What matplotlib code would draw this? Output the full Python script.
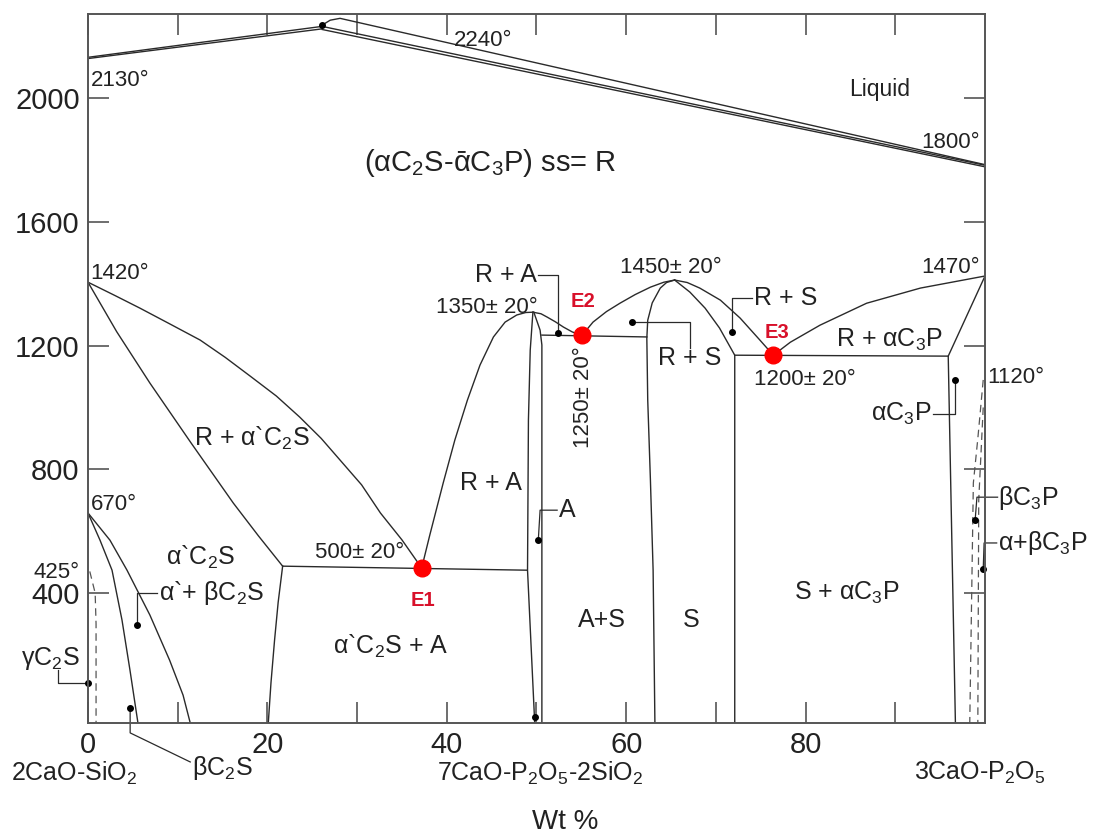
import matplotlib.pyplot as plt

plt.rcParams["font.family"] = ["Liberation Sans", "DejaVu Sans"]
plt.rcParams["mathtext.fontset"] = "custom"
plt.rcParams["mathtext.rm"] = "Liberation Sans"
plt.rcParams["mathtext.it"] = "Liberation Sans:italic"
plt.rcParams["mathtext.bf"] = "Liberation Sans:bold"

# phase boundaries as (wt %, temperature) pairs
liq_left_a = [(0, 2132), (26.1, 2232)]
liq_left_b = [(0, 2128), (26.1, 2224)]
liq_right_top = [(26.1, 2236), (27.0, 2252), (28.1, 2258), (100, 1785)]
liq_right_mid = [(26.1, 2232), (100, 1783)]
liq_right_low = [(26.1, 2222), (100, 1778)]

r_liquidus_c2s = [(0, 1405), (3.0, 1362), (5.8, 1321), (9.0, 1272), (12.5, 1218), (15.3, 1162),
                  (18.1, 1101), (21.0, 1037), (23.6, 969), (26.0, 900), (28.1, 830),
                  (30.5, 750), (32.6, 659), (35.0, 572), (37.2, 481)]
r_solvus_c2s = [(0, 1405), (3.2, 1245), (6.9, 1079), (11.5, 885), (16.2, 691), (19.0, 585), (21.7, 487)]
eutectoid_e1 = [(21.7, 487), (48.9, 474)]
c2s_a_left = [(21.7, 487), (21.2, 370), (20.8, 248), (20.4, 110), (20.1, -20)]

c2s_alpha_beta_a = [(0, 659), (1.34, 571), (2.68, 474), (3.79, 313), (4.68, 151), (5.57, -20)]
c2s_alpha_beta_b = [(0, 659), (2.45, 571), (4.35, 474), (6.9, 329), (9.1, 183), (10.6, 70), (11.4, -20)]
c2s_gamma_dash = [(0.2, 470), (0.8, 400), (0.9, 300), (0.9, -20)]

e1_to_peak = [(37.2, 481), (38.1, 587), (39.6, 756), (40.9, 895), (42.3, 1024), (43.7, 1137),
              (45.2, 1228), (46.5, 1276), (47.8, 1299), (48.8, 1307), (49.6, 1308)]
peak_to_e2 = [(49.6, 1308), (50.5, 1303), (51.2, 1292), (52.1, 1277), (53.0, 1260),
              (54.0, 1244), (55.1, 1234)]
a_left = [(49.6, 1308), (49.3, 1185), (49.1, 959), (49.0, 474), (49.8, -20)]
a_right = [(49.7, 1308), (50.1, 1275), (50.4, 1250), (50.6, 1202), (50.6, -20)]
eutectic_e2 = [(50.6, 1234), (62.3, 1228)]

e2_to_peak = [(55.1, 1234), (56.3, 1276), (57.8, 1310), (59.3, 1337), (61.0, 1365),
              (62.7, 1389), (64.2, 1405), (65.4, 1412)]
s_left = [(65.4, 1412), (64.5, 1404), (63.8, 1386), (62.9, 1338), (62.4, 1282), (62.3, 1224),
          (62.4, 1024), (62.7, 765), (63.0, 474), (63.2, -20)]
s_right = [(65.4, 1412), (67.1, 1373), (68.8, 1321), (70.4, 1257), (72.1, 1169), (72.1, -20)]
peak_to_e3 = [(65.4, 1412), (66.8, 1404), (68.2, 1386), (70.5, 1347), (72.7, 1289),
              (74.9, 1218), (76.4, 1169)]
eutectic_e3 = [(72.1, 1169), (95.9, 1166)]
e3_to_c3p = [(76.4, 1169), (78.3, 1211), (81.6, 1266), (86.8, 1337), (92.8, 1386), (100, 1425)]
c3p_solvus = [(100, 1425), (95.9, 1166), (96.7, -20)]
c3p_dash_a = [(99.8, 1089), (99.2, 900), (98.7, 756), (98.3, -20)]
c3p_dash_b = [(99.8, 1000), (99.3, 700), (99.2, -20)]

eutectics = {"E1": (37.2, 481), "E2": (55.1, 1234), "E3": (76.4, 1169)}

# leader lines: dot first
leaders = [
    [(0, 109), (-3.3, 109), (-3.3, 151)],          # gamma C2S
    [(4.7, 28), (4.7, -52), (11.4, -146)],         # beta C2S
    [(5.5, 297), (5.5, 400), (7.7, 400)],          # alpha + beta C2S
    [(50.2, 571), (50.4, 668), (52.3, 668)],       # A
    [(52.4, 1240), (52.4, 1428), (50.2, 1428)],    # R + A
    [(60.6, 1276), (67.1, 1276), (67.1, 1192)],    # R + S (middle)
    [(71.8, 1244), (71.8, 1354), (74.0, 1354)],    # R + S (right)
    [(96.7, 1089), (96.7, 979), (94.2, 979)],      # alpha C3P
    [(98.9, 636), (99.1, 710), (101.4, 710)],      # beta C3P
    [(99.8, 478), (99.9, 562), (101.3, 562)],      # alpha + beta C3P
]
top_dot = (26.1, 2236)

xticks = [0, 10, 20, 30, 40, 50, 60, 70, 80, 90]
xticklabels = ["0", "", "20", "", "40", "", "60", "", "80", ""]
yticks = [400, 800, 1200, 1600, 2000]

fig = plt.figure(figsize=(10.93, 8.34), dpi=100)
ax = fig.add_axes([0.0805, 0.1331, 0.8207, 0.8501])

LC = "#2a2a2a"


def draw(pts, **kw):
    xs = [p[0] for p in pts]
    ys = [p[1] for p in pts]
    ax.plot(xs, ys, color=kw.pop("color", LC), lw=kw.pop("lw", 1.0), **kw)


for line in [liq_left_a, liq_left_b, liq_right_top, liq_right_mid, liq_right_low,
             r_liquidus_c2s, r_solvus_c2s, eutectoid_e1, c2s_a_left,
             c2s_alpha_beta_a, c2s_alpha_beta_b, e1_to_peak, peak_to_e2, a_left, a_right,
             eutectic_e2, e2_to_peak, s_left, s_right, peak_to_e3, eutectic_e3, e3_to_c3p,
             c3p_solvus]:
    draw(line)

for line in [c2s_gamma_dash, c3p_dash_a, c3p_dash_b]:
    draw(line, ls=(0, (6, 4)), lw=0.9, color="#555555")

for ld in leaders:
    draw(ld, lw=0.9, clip_on=False)
    ax.plot(ld[0][0], ld[0][1], "o", color="black", ms=4, clip_on=False)
ax.plot(top_dot[0], top_dot[1], "o", color="black", ms=4)
ax.plot(49.8, 0, "o", color="black", ms=4, clip_on=False)

for name, (x, y) in eutectics.items():
    ax.plot(x, y, "o", color="#ff0000", ms=12, zorder=5)

ec = "#d8102a"
fe = 14.5
ax.text(37.3, 377, "E1", color=ec, fontsize=fe, fontweight="bold", ha="center", va="center")
ax.text(55.2, 1341, "E2", color=ec, fontsize=fe, fontweight="bold", ha="center", va="center")
ax.text(76.8, 1244, "E3", color=ec, fontsize=fe, fontweight="bold", ha="center", va="center")

tc = "#222222"
ft = 16   # temperatures
fr = 18   # regions
ax.text(0.3, 2058, "2130°", fontsize=ft, color=tc, va="center")
ax.text(44.0, 2187, "2240°", fontsize=ft, color=tc, ha="center", va="center")
ax.text(99.4, 1858, "1800°", fontsize=ft, color=tc, ha="right", va="center")
ax.text(88.3, 2029, "Liquid", fontsize=16.5, color=tc, ha="center", va="center")
ax.text(44.9, 1790, "(αC$_2$S-ᾱC$_3$P) ss= R", fontsize=21, color=tc, ha="center", va="center")
ax.text(0.3, 1434, "1420°", fontsize=ft, color=tc, va="center")
ax.text(99.4, 1454, "1470°", fontsize=ft, color=tc, ha="right", va="center")
ax.text(44.5, 1324, "1350± 20°", fontsize=ft, color=tc, ha="center", va="center")
ax.text(50.0, 1428, "R + A", fontsize=fr, color=tc, ha="right", va="center")
ax.text(65.0, 1454, "1450± 20°", fontsize=ft, color=tc, ha="center", va="center")
ax.text(55.2, 1034, "1250± 20°", fontsize=ft, color=tc, ha="center", va="center", rotation=90)
ax.text(67.1, 1160, "R + S", fontsize=fr, color=tc, ha="center", va="center")
ax.text(74.2, 1354, "R + S", fontsize=fr, color=tc, ha="left", va="center")
ax.text(79.9, 1089, "1200± 20°", fontsize=ft, color=tc, ha="center", va="center")
ax.text(89.4, 1218, "R + αC$_3$P", fontsize=fr, color=tc, ha="center", va="center")
ax.text(100.3, 1098, "1120°", fontsize=ft, color=tc, ha="left", va="center")
ax.text(94.0, 979, "αC$_3$P", fontsize=fr, color=tc, ha="right", va="center")
ax.text(101.5, 707, "βC$_3$P", fontsize=fr, color=tc, ha="left", va="center")
ax.text(101.4, 562, "α+βC$_3$P", fontsize=fr, color=tc, ha="left", va="center")
ax.text(18.3, 901, "R + α`C$_2$S", fontsize=fr, color=tc, ha="center", va="center")
ax.text(44.9, 756, "R + A", fontsize=fr, color=tc, ha="center", va="center")
ax.text(52.5, 668, "A", fontsize=fr, color=tc, ha="left", va="center")
ax.text(30.3, 532, "500± 20°", fontsize=ft, color=tc, ha="center", va="center")
ax.text(12.5, 516, "α`C$_2$S", fontsize=fr, color=tc, ha="center", va="center")
ax.text(-0.9, 468, "425°", fontsize=ft, color=tc, ha="right", va="center")
ax.text(0.3, 685, "670°", fontsize=ft, color=tc, ha="left", va="center")
ax.text(7.9, 400, "α`+ βC$_2$S", fontsize=fr, color=tc, ha="left", va="center")
ax.text(-0.9, 190, "γC$_2$S", fontsize=fr, color=tc, ha="right", va="center")
ax.text(11.6, -166, "βC$_2$S", fontsize=fr, color=tc, ha="left", va="center")
ax.text(33.7, 226, "α`C$_2$S + A", fontsize=fr, color=tc, ha="center", va="center")
ax.text(57.3, 313, "A+S", fontsize=fr, color=tc, ha="center", va="center")
ax.text(67.3, 313, "S", fontsize=fr, color=tc, ha="center", va="center")
ax.text(84.6, 400, "S + αC$_3$P", fontsize=fr, color=tc, ha="center", va="center")

fc = 18
ax.text(-1.5, -182, "2CaO-SiO$_2$", fontsize=fc, color=tc, ha="center", va="center")
ax.text(50.4, -182, "7CaO-P$_2$O$_5$-2SiO$_2$", fontsize=fc, color=tc, ha="center", va="center")
ax.text(99.4, -182, "3CaO-P$_2$O$_5$", fontsize=fc, color=tc, ha="center", va="center")
ax.text(53.2, -340, "Wt %", fontsize=20, color=tc, ha="center", va="center")

ax.set_xlim(0, 100)
ax.set_ylim(-20, 2272)
ax.set_xticks(xticks)
ax.set_xticklabels(xticklabels)
ax.set_yticks(yticks)
ax.set_yticklabels([str(v) for v in yticks])
ax.tick_params(direction="in", length=15, width=1.2, color="#555555", labelsize=21,
               labelcolor=tc, top=True, right=True, pad=6)
for sp in ax.spines.values():
    sp.set_color("#555555")
    sp.set_linewidth(1.4)

plt.savefig("out.png", dpi=100)
plt.close()
